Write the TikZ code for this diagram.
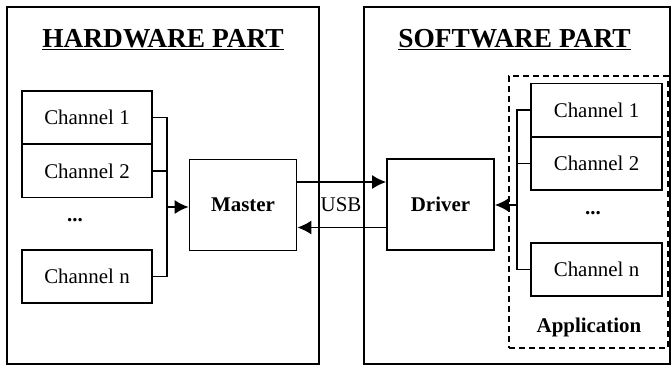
\documentclass[tikz,border=0pt]{standalone}
\usepackage{fontspec}
\setmainfont{Liberation Serif}
\usetikzlibrary{arrows.meta}
\begin{document}
\begin{tikzpicture}[x=1bp,y=-1bp,
  every node/.style={font=\fontsize{21}{25}\selectfont},
  panel/.style={draw,line width=1.8pt,inner sep=0pt},
  chanbox/.style={draw,line width=1.8pt,inner sep=0pt,minimum width=130bp,minimum height=53bp},
  unitbox/.style={draw,line width=1.8pt,inner sep=0pt,minimum width=107bp,minimum height=91bp,font=\fontsize{21}{25}\selectfont\bfseries},
  title/.style={font=\fontsize{27.5}{30}\selectfont\bfseries},
  wire/.style={line width=1.4pt},
  arr/.style={wire,-{Latex[length=14bp,width=14bp]}}]
  \useasboundingbox (0,0) rectangle (672,366);
  % the two parts
  \node[panel,minimum width=312bp,minimum height=357bp] (hw) at (163,185.5) {};
  \node[panel,minimum width=306bp,minimum height=357bp] (sw) at (517,185.5) {};
  \node[title] (hwtitle) at (163,40) {\underline{HARDWARE PART}};
  \node[title] (swtitle) at (514.5,40) {\underline{SOFTWARE PART}};
  % hardware side
  \node[chanbox] (hc1) at (87,117.5) {Channel 1};
  \node[chanbox] (hc2) at (87,171) {Channel 2};
  \node (hdots) at (75,220) {\textbf{...}};
  \node[chanbox] (hcn) at (87,276.5) {Channel n};
  \node[unitbox] (master) at (243,205) {Master};
  \coordinate (hbus) at (167,207);
  \draw[wire] (hc1.east) -| (hbus);
  \draw[wire] (hc2.east) -| (hbus);
  \draw[wire] (hcn.east) -| (hbus);
  \draw[arr] (hbus) -- (hbus -| master.west);
  % software side
  \node[draw,dash pattern=on 6bp off 4bp,line width=1.4pt,minimum width=159bp,minimum height=272bp] (app) at (588.5,212) {};
  \node[chanbox,minimum width=131bp] (sc1) at (596.5,110) {Channel 1};
  \node[chanbox,minimum width=131bp] (sc2) at (596.5,163.5) {Channel 2};
  \node (sdots) at (593,213) {\textbf{...}};
  \node[chanbox,minimum width=131bp] (scn) at (596.5,269.5) {Channel n};
  \node[font=\fontsize{21}{25}\selectfont\bfseries] (applabel) at (589,327) {Application};
  \node[unitbox] (driver) at (440.5,204.5) {Driver};
  \coordinate (sbus) at (517,205);
  \draw[wire] (sc1.west) -| (sbus);
  \draw[wire] (sc2.west) -| (sbus);
  \draw[wire] (scn.west) -| (sbus);
  \draw[arr] (sbus) -- (sbus -| driver.east);
  % usb link
  \draw[arr] ([yshift=23bp]master.east) -- ([yshift=23bp]master.east -| driver.west);
  \draw[arr] ([yshift=-23bp]driver.west) -- ([yshift=-23bp]driver.west -| master.east);
  \node (usb) at (341,205) {USB};
\end{tikzpicture}
\end{document}
